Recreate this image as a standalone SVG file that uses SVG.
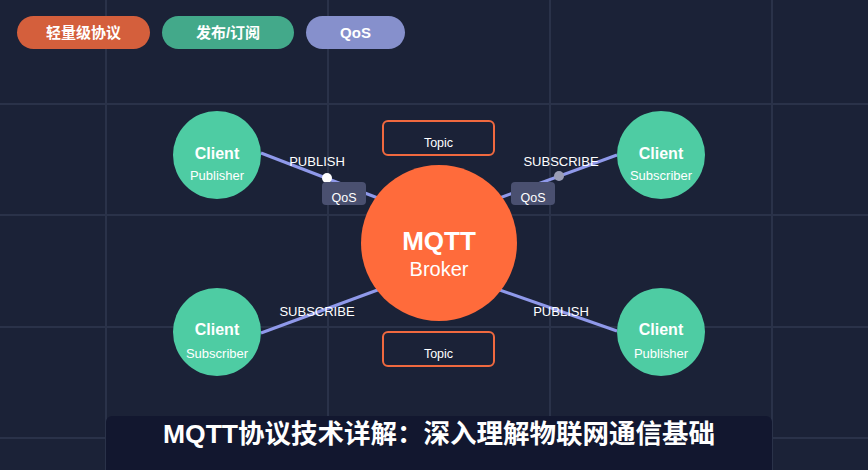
<svg xmlns="http://www.w3.org/2000/svg" width="868" height="470" viewBox="0 0 868 470">
<style>
text{font-family:"Liberation Sans","Noto Sans CJK SC",sans-serif;fill:#fff;text-anchor:middle}
.grid line{stroke:#2a3249;stroke-width:2}
.pill text{font-size:15px;font-weight:bold}
.client circle{fill:#4ecca3}
.client .t1{font-size:16px;font-weight:bold}
.client .t2{font-size:13px}
.topic rect{fill:none;stroke:#f0693f;stroke-width:2}
.topic text{font-size:12.5px}
.conn line{stroke:#8f99ea;stroke-width:3}
.lbl{font-size:13px}
.qos rect{fill:#4a5070}
.qos text{font-size:12.5px}
</style>
<rect width="868" height="470" fill="#1b2237"/>
<g class="grid">
<line x1="0" y1="104" x2="868" y2="104"/>
<line x1="0" y1="215" x2="868" y2="215"/>
<line x1="0" y1="327" x2="868" y2="327"/>
<line x1="0" y1="438" x2="868" y2="438"/>
<line x1="106" y1="0" x2="106" y2="470"/>
<line x1="328" y1="0" x2="328" y2="470"/>
<line x1="550" y1="0" x2="550" y2="470"/>
<line x1="772" y1="0" x2="772" y2="470"/>
</g>
<g id="tag-lightweight" class="pill"><rect x="17" y="16" width="133" height="33" rx="16.5" fill="#d45f3c"/><text x="83.5" y="38">轻量级协议</text></g>
<g id="tag-pubsub" class="pill"><rect x="162" y="16" width="132" height="33" rx="16.5" fill="#43a98a"/><text x="228" y="38">发布/订阅</text></g>
<g id="tag-qos" class="pill"><rect x="306" y="16" width="99" height="33" rx="16.5" fill="#8690cc"/><text x="355.5" y="38">QoS</text></g>
<g id="connectors" class="conn">
<line x1="261" y1="153" x2="383" y2="200"/>
<line x1="617" y1="155" x2="494" y2="200"/>
<line x1="261" y1="333" x2="383" y2="288"/>
<line x1="617" y1="331" x2="494" y2="288"/>
<circle cx="327" cy="178" r="5" fill="#fff"/>
<circle cx="559" cy="176" r="5" fill="#9a9db5"/>
</g>
<g id="qos-left" class="qos"><rect x="322" y="182" width="44" height="23" rx="4"/><text x="344" y="202">QoS</text></g>
<g id="qos-right" class="qos"><rect x="511" y="182" width="44" height="23" rx="4"/><text x="533" y="202">QoS</text></g>
<g id="labels">
<text class="lbl" x="317" y="166">PUBLISH</text>
<text class="lbl" x="561" y="166">SUBSCRIBE</text>
<text class="lbl" x="317" y="316">SUBSCRIBE</text>
<text class="lbl" x="561" y="316">PUBLISH</text>
</g>
<g id="topic-top" class="topic"><rect x="383" y="121" width="111" height="34" rx="5"/><text x="438.5" y="147">Topic</text></g>
<g id="topic-bottom" class="topic"><rect x="383" y="332" width="111" height="34" rx="5"/><text x="438.5" y="358">Topic</text></g>
<g id="broker"><circle cx="439" cy="243" r="78" fill="#ff6b3b"/><text x="439" y="250" font-size="26" font-weight="bold">MQTT</text><text x="439" y="276" font-size="20">Broker</text></g>
<g id="client-pub-top" class="client"><circle cx="217" cy="155" r="44"/><text class="t1" x="217" y="159">Client</text><text class="t2" x="217" y="180">Publisher</text></g>
<g id="client-sub-top" class="client"><circle cx="661" cy="155" r="44"/><text class="t1" x="661" y="159">Client</text><text class="t2" x="661" y="180">Subscriber</text></g>
<g id="client-sub-bottom" class="client"><circle cx="217" cy="332" r="44"/><text class="t1" x="217" y="335">Client</text><text class="t2" x="217" y="358">Subscriber</text></g>
<g id="client-pub-bottom" class="client"><circle cx="661" cy="332" r="44"/><text class="t1" x="661" y="335">Client</text><text class="t2" x="661" y="358">Publisher</text></g>
<g id="title"><rect x="106" y="416" width="666" height="70" rx="6" fill="#12172f"/><text x="439" y="443" font-size="26.5" font-weight="bold">MQTT协议技术详解：深入理解物联网通信基础</text></g>
</svg>
